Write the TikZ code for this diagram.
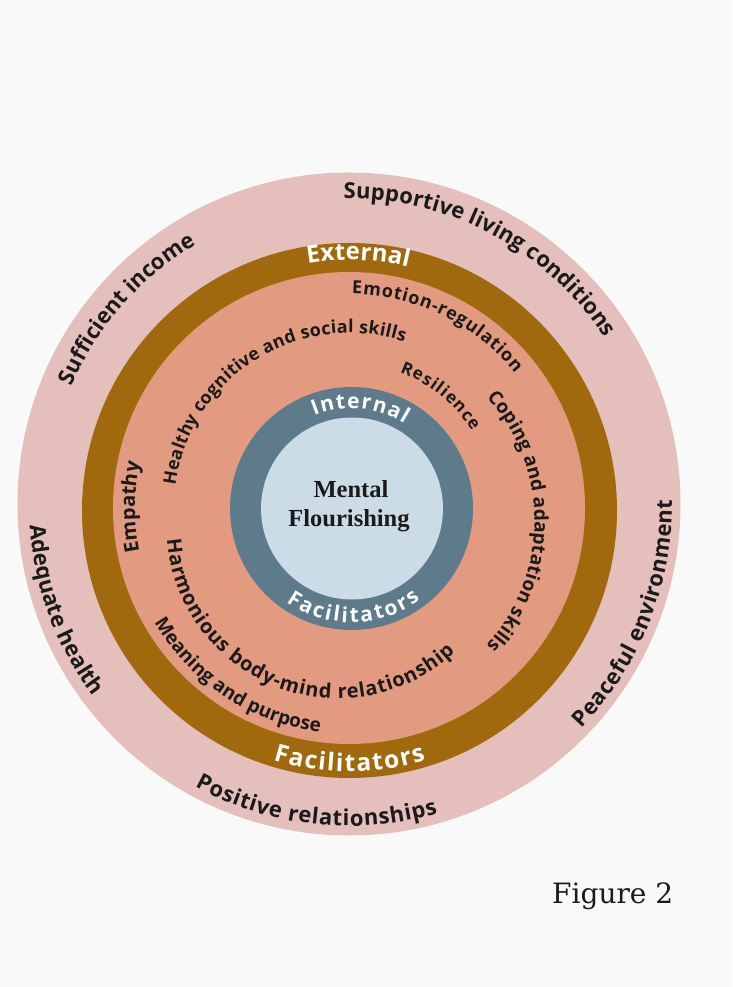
\documentclass[tikz,border=0pt]{standalone}
\usepackage{fontspec}
\usetikzlibrary{decorations.text}
\newfontfamily\labfont{Open Sans}
\newfontfamily\hubfont{Liberation Serif}
\newfontfamily\capfont{DejaVu Serif}

\definecolor{paper}{HTML}{F9F9F9}
\definecolor{rosering}{HTML}{E5BFBB}
\definecolor{brownring}{HTML}{A1690D}
\definecolor{salmon}{HTML}{E29A80}
\definecolor{slatering}{HTML}{5E7B8B}
\definecolor{core}{HTML}{CCDCE6}
\definecolor{ink}{HTML}{1A1A1A}

% text set along an arc: centre, radius, start angle, end angle, size, colour, text
\newcommand\ringtext[7]{%
  \path[shift={#1},decorate,decoration={text along path,text align={fit to path},
      text={|\labfont\bfseries\fontsize{#5}{#5}\selectfont\color{#6}|#7}}]
    (#3:#2pt) arc[start angle=#3,end angle=#4,radius=#2pt];}

\begin{document}
\begin{tikzpicture}[x=1pt,y=1pt]
  % page
  \fill[paper] (-349,-482) rectangle (383,505);
  \useasboundingbox (-349,-482) rectangle (383,505);

  % rings, outside in
  \fill[rosering]  (0,1)      circle[radius=331.5pt];
  \fill[brownring] (0.5,-5.5) circle[radius=267.5pt];
  \fill[salmon]    (0,-3)     circle[radius=236pt];
  \fill[slatering] (2.5,-3.5) circle[radius=121.5pt];
  \fill[core]      (3,-3.5)   circle[radius=91pt];

  % outer ring: living conditions
  \ringtext{(0,1)}{305}{91}{33}{22}{ink}{Supportive living conditions}
  \ringtext{(0,1)}{301}{157}{121.4}{22}{ink}{Sufficient income}
  \ringtext{(0,1)}{320}{183.8}{217}{22}{ink}{Adequate health}
  \ringtext{(0,1)}{322}{241.4}{286}{22}{ink}{Positive relationships}
  \ringtext{(0,1)}{323}{-44}{0.7}{22}{ink}{Peaceful environment}

  % brown band
  \ringtext{(0.5,-5.5)}{250.5}{99.6}{76.4}{24}{white}{External}
  \ringtext{(0.5,-5.5)}{261}{253}{287}{24.5}{white}{Facilitators}

  % salmon field
  \ringtext{(0,-3)}{214}{89.2}{39.1}{18}{ink}{Emotion-regulation}
  \ringtext{(0,-3)}{175}{172.6}{71.6}{17.8}{ink}{Healthy cognitive and social skills}
  \ringtext{(0,-3)}{145}{69.5}{32}{17}{ink}{Resilience}
  \ringtext{(1,-16)}{184.5}{42.2}{-42.4}{19}{ink}{Coping and adaptation skills}
  \ringtext{(0,-3)}{214}{191.6}{167.8}{20}{ink}{Empathy}
  \ringtext{(-11,-22)}{171.5}{184.3}{313.1}{20}{ink}{Harmonious body-mind relationship}
  \ringtext{(0,-3)}{226}{210.5}{262.6}{19}{ink}{Meaning and purpose}

  % slate band
  \ringtext{(2.5,-3.5)}{100}{112}{58}{21}{white}{Internal}
  \ringtext{(2.5,-3.5)}{114}{235}{307}{21}{white}{Facilitators}

  % centre
  \node[anchor=base,inner sep=0,text=ink,font=\hubfont\bfseries\fontsize{24.5}{29}\selectfont]
    (hubtop) at (2,7) {Mental};
  \node[anchor=base,inner sep=0,text=ink,font=\hubfont\bfseries\fontsize{24.5}{29}\selectfont]
    (hubbottom) at (0,-22) {Flourishing};

  % caption
  \node[anchor=base west,inner sep=0,text=ink,font=\capfont\fontsize{28}{34}\selectfont]
    (caption) at (203,-398) {Figure 2};
\end{tikzpicture}
\end{document}
